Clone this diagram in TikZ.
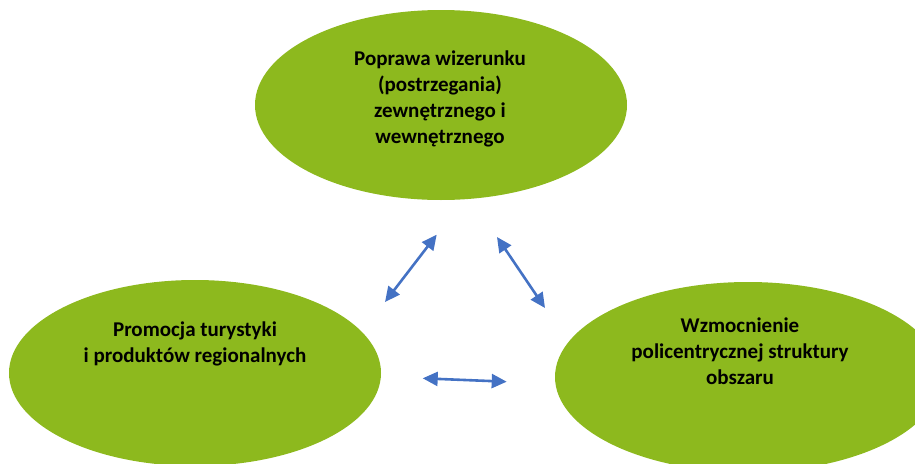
\documentclass[tikz,border=0pt]{standalone}
\usepackage{fontspec}
\setmainfont{Carlito}
\usetikzlibrary{shapes.geometric,arrows.meta}
\definecolor{ovalgreen}{HTML}{8DB91E}
\definecolor{arrowblue}{HTML}{4472C4}
\begin{document}
\begin{tikzpicture}[x=1pt,y=-1pt,
  oval/.style={ellipse,fill=ovalgreen,draw=none,inner sep=0pt},
  label/.style={align=center,font=\bfseries\fontsize{21}{26}\selectfont,text=black,inner sep=0pt},
  link/.style={draw=arrowblue,line width=2.6pt,{Triangle[length=15pt,width=14pt]}-{Triangle[length=15pt,width=14pt]}}]
\useasboundingbox (0,0) rectangle (915,463);
\node[oval,minimum width=372pt,minimum height=190pt] (top) at (441,105) {};
\node[oval,minimum width=372pt,minimum height=186pt] (left) at (195,373) {};
\node[oval,minimum width=386pt,minimum height=190pt] (right) at (748,377) {};
\node[label] (toptext) at (440,99) {Poprawa wizerunku\\(postrzegania)\\zewnętrznego i\\wewnętrznego};
\node[label] (lefttext) at (195,344) {Promocja turystyki\\i produktów regionalnych};
\node[label] (righttext) at (740,351) {Wzmocnienie\\policentrycznej struktury\\obszaru};
\coordinate (a1) at (385,302);
\coordinate (a2) at (436.7,234.7);
\coordinate (b1) at (497,237);
\coordinate (b2) at (545,308);
\coordinate (c1) at (422.7,378.3);
\coordinate (c2) at (506.7,381.7);
\draw[link] (a1) -- (a2);
\draw[link] (b1) -- (b2);
\draw[link] (c1) -- (c2);
\end{tikzpicture}
\end{document}
